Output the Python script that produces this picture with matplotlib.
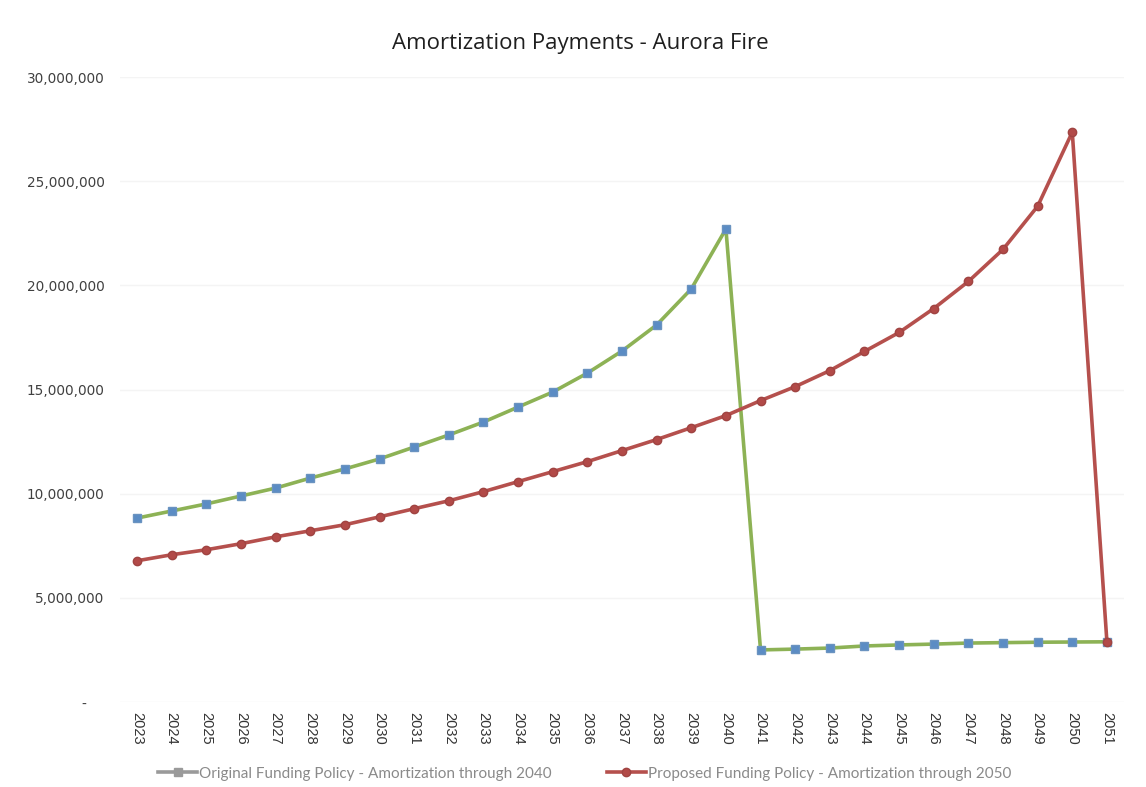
import numpy as np
import matplotlib
matplotlib.use("Agg")
import matplotlib.pyplot as plt
from matplotlib.ticker import FuncFormatter

years = [str(y) for y in range(2023, 2052)]

# Original Funding Policy - Amortization through 2040
original = [8.83, 9.17, 9.51, 9.89, 10.27, 10.75, 11.19, 11.67, 12.24, 12.82,
            13.44, 14.16, 14.88, 15.79, 16.85, 18.10, 19.83, 22.71,
            2.50, 2.54, 2.59, 2.69, 2.74, 2.78, 2.83, 2.85, 2.87, 2.88, 2.89]

# Proposed Funding Policy - Amortization through 2050
proposed = [6.78, 7.07, 7.31, 7.60, 7.93, 8.22, 8.51, 8.89, 9.28, 9.66,
            10.10, 10.58, 11.06, 11.54, 12.07, 12.60, 13.17, 13.75, 14.47, 15.14,
            15.91, 16.83, 17.74, 18.89, 20.19, 21.73, 23.80, 27.36, 2.89]

series_names = ["Original Funding Policy - Amortization through 2040",
                "Proposed Funding Policy - Amortization through 2050"]

orig_v = np.array(original) * 1e6
prop_v = np.array(proposed) * 1e6
x = np.arange(len(years))

fig = plt.figure(figsize=(11.46, 7.87), dpi=100)
ax = fig.add_axes([0.1045, 0.108, 0.8765, 0.794])

l1, = ax.plot(x, orig_v, color="#8db255", lw=2.6, marker="s", ms=6,
              mfc="#5b8cc4", mec="#6a93c0", label=series_names[0], zorder=3)
l2, = ax.plot(x, prop_v, color="#b5504d", lw=2.6, marker="o", ms=6,
              mfc="#b24a48", mec="#a04442", label=series_names[1], zorder=4)

ax.set_xlim(-0.5, len(years) - 0.5)
ax.set_ylim(0, 30e6)
ax.set_yticks(np.arange(0, 30e6 + 1, 5e6))
ax.yaxis.set_major_formatter(FuncFormatter(
    lambda v, p: "-    " if v == 0 else f"{v:,.0f}"))
ax.set_xticks(x, years, rotation=-90, fontsize=10.5, family="Liberation Sans",
              color="#333333")
ax.tick_params(axis="y", labelsize=9.8, labelcolor="#404040", length=0, pad=11)
ax.tick_params(axis="x", length=0, pad=7)
ax.grid(axis="y", color="#f4f4f4", lw=1)
for s in ax.spines.values():
    s.set_visible(False)

fig.suptitle("Amortization Payments - Aurora Fire", x=0.506, y=0.958,
             fontsize=16, family="Open Sans", color="#1f1f1f")

leg = fig.legend(handles=[l1, l2], loc="center", bbox_to_anchor=(0.51, 0.017),
                 ncol=2, frameon=False, columnspacing=3.6,
                 handlelength=2.6, handletextpad=0.1,
                 prop={"family": "Lato", "size": 11})
for t in leg.get_texts():
    t.set_color("#8a8a8a")
h1, h2 = leg.legend_handles
h1.set_color("#9a9a9a"); h1.set_markerfacecolor("#9a9a9a"); h1.set_markeredgecolor("#9a9a9a")
h2.set_color("#b5504d")

fig.savefig("out.png", dpi=100)
